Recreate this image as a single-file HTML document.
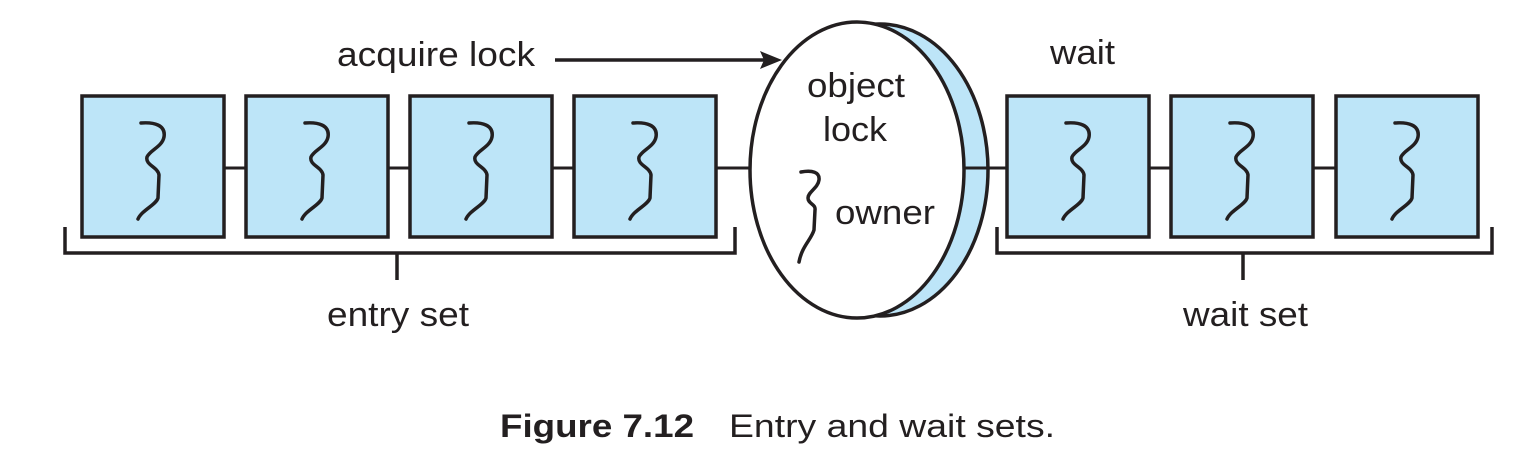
<!DOCTYPE html>
<html><head><meta charset="utf-8"><style>html,body{margin:0;padding:0;background:#fff}svg{display:block}</style></head>
<body>
<svg width="1539" height="451" viewBox="0 0 1539 451" xmlns="http://www.w3.org/2000/svg" font-family="Liberation Sans, sans-serif">
<defs>
<g id="sq"><path d="M59,28 C72,27 84,30 82,42 C80,52 68,55 65,62 C63,70 76,72 77,80 L76,103 C74,110 60,115 56,124" fill="none" stroke="#231f20" stroke-width="3.5" stroke-linecap="round"/></g>
</defs>
<line x1="224" y1="168" x2="1007" y2="168" stroke="#231f20" stroke-width="3"/>
<line x1="1149" y1="168" x2="1336" y2="168" stroke="#231f20" stroke-width="3"/>
<g fill="#bde5f8" stroke="#231f20" stroke-width="3.5">
<rect x="82" y="96" width="142" height="141"/>
<rect x="246" y="96" width="142" height="141"/>
<rect x="410" y="96" width="142" height="141"/>
<rect x="574" y="96" width="142" height="141"/>
<rect x="1007" y="96" width="142" height="141"/>
<rect x="1171" y="96" width="142" height="141"/>
<rect x="1336" y="96" width="142" height="141"/>
</g>
<use href="#sq" x="82" y="95"/><use href="#sq" x="246" y="95"/><use href="#sq" x="410" y="95"/><use href="#sq" x="574" y="95"/>
<use href="#sq" x="1007" y="95"/><use href="#sq" x="1171" y="95"/><use href="#sq" x="1336" y="95"/>
<ellipse cx="880" cy="170" rx="108" ry="146" fill="#bde5f8" stroke="#231f20" stroke-width="3.5"/>
<ellipse cx="857" cy="170" rx="107" ry="148" fill="#fff" stroke="#231f20" stroke-width="3.5"/>
<line x1="740" y1="168" x2="750" y2="168" stroke="#231f20" stroke-width="3"/>
<line x1="963" y1="168" x2="1007" y2="168" stroke="#231f20" stroke-width="3"/>
<path d="M801,172 C812,170 820,172 819,180 C818,188 808,192 808,198 C808,204 816,204 815,210 L814,230 C811,240 802,246 799,262" fill="none" stroke="#231f20" stroke-width="3.5" stroke-linecap="round"/>
<g fill="none" stroke="#231f20" stroke-width="3.5">
<path d="M65,227 V253 H735 V227"/><line x1="397" y1="253" x2="397" y2="280"/>
<path d="M997,227 V253 H1492 V227"/><line x1="1243" y1="253" x2="1243" y2="280"/>
<line x1="555" y1="60" x2="765" y2="60"/>
</g>
<path d="M782,60 L760,51 L764,60 L760,69 Z" fill="#231f20"/>
<g fill="#231f20" font-size="34">
<text x="337" y="66" textLength="198" lengthAdjust="spacingAndGlyphs">acquire lock</text>
<text x="807" y="97" textLength="98" lengthAdjust="spacingAndGlyphs">object</text>
<text x="823" y="141" textLength="64" lengthAdjust="spacingAndGlyphs">lock</text>
<text x="835" y="224" textLength="100" lengthAdjust="spacingAndGlyphs">owner</text>
<text x="1050" y="64" textLength="65" lengthAdjust="spacingAndGlyphs">wait</text>
<text x="327" y="326" textLength="142" lengthAdjust="spacingAndGlyphs">entry set</text>
<text x="1183" y="326" textLength="125" lengthAdjust="spacingAndGlyphs">wait set</text>
<text x="500" y="437" font-size="32" font-weight="bold" textLength="194" lengthAdjust="spacingAndGlyphs">Figure 7.12</text>
<text x="729" y="437" font-size="32" textLength="326" lengthAdjust="spacingAndGlyphs">Entry and wait sets.</text>
</g>
</svg>
</body></html>
